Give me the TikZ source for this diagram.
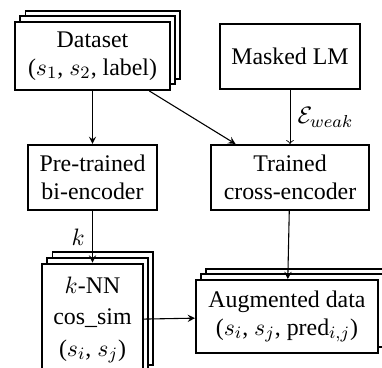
\documentclass[tikz,border=0pt]{standalone}
\usepackage{fontspec}
\setmainfont{Liberation Serif}
\usetikzlibrary{shadows}
\begin{document}
\begin{tikzpicture}
 [x=0.0162cm,y=-0.0162cm,
  every node/.style={font=\fontsize{11}{13}\selectfont},
  box/.style={draw,line width=0.9pt,fill=white,align=center,inner sep=2pt},
  stack/.style={box,double copy shadow={shadow xshift=2.4pt,shadow yshift=2.6pt,line width=0.9pt}},
  link/.style={-stealth,line width=0.5pt}]
  \clip (0,0) rectangle (382,367);

  \node[stack,minimum width=71.4pt,minimum height=31.3pt] (ds) at (92.5,56) {Dataset\\($s_1$, $s_2$, label)};
  \node[box,minimum width=64.5pt,minimum height=30pt] (mlm) at (290,56.5) {Masked LM};
  \node[box,minimum width=59.4pt,minimum height=30pt] (bi) at (92.5,177.5) {Pre-trained\\bi-encoder};
  \node[box,minimum width=72.8pt,minimum height=30pt] (cross) at (290,177.5) {Trained\\cross-encoder};
  \node[stack,minimum width=46.5pt,minimum height=52pt] (knn) at (92.5,320) {$k$-NN\\[1.5pt]cos\_sim\\[1.5pt]($s_i$, $s_j$)};
  \node[stack,minimum width=83.9pt,minimum height=33.6pt] (aug) at (287,316.5) {Augmented data\\($s_i$, $s_j$, pred$_{i,j}$)};

  \foreach \from/\to in {ds/bi,ds/cross,cross/aug,knn/aug}
    \draw[link] (\from) -- (\to);
  \draw[->] (mlm) -- node[right] {$\mathcal{E}_{weak}$} (cross);
  \draw[link] (bi) -- node[left] {$k$} (knn);
\end{tikzpicture}
\end{document}
